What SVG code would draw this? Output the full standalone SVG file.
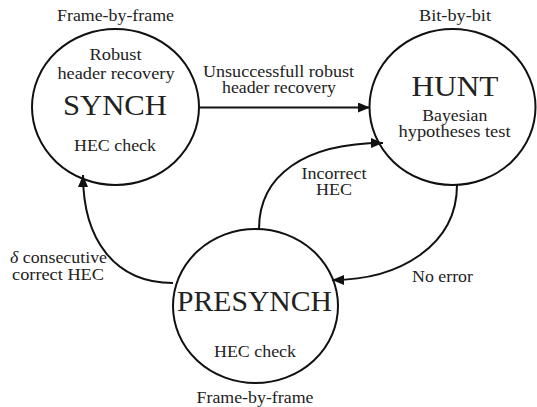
<svg xmlns="http://www.w3.org/2000/svg" width="537" height="407" viewBox="0 0 537 407">
<style>
  .node { fill: none; stroke: #111; stroke-width: 2; }
  .edge { fill: none; stroke: #111; stroke-width: 2; }
  text { fill: #222; text-anchor: middle; font-family: "Liberation Serif", "DejaVu Serif", serif; }
  .s { font-size: 16px; }
  .b { font-size: 30px; }
</style>
<defs>
  <marker id="arr" viewBox="0 0 12 10" refX="12" refY="5" markerWidth="12" markerHeight="10" markerUnits="userSpaceOnUse" orient="auto">
    <path d="M0,0 L12,5 L0,10 Z" fill="#111"/>
  </marker>
</defs>
<g id="edges">
  <path class="edge" d="M199,107.5 L370,107.5" marker-end="url(#arr)"/>
  <path class="edge" d="M259,229 C259,175 305,143 383,143" marker-end="url(#arr)"/>
  <path class="edge" d="M457,185 C457,245 400,280 332,280" marker-end="url(#arr)"/>
  <path class="edge" d="M173,283 C115,283 83,240 83,175" marker-end="url(#arr)"/>
  <text class="s" x="278.5" y="77" textLength="151" lengthAdjust="spacingAndGlyphs">Unsuccessfull robust</text>
  <text class="s" x="279" y="93" textLength="114" lengthAdjust="spacingAndGlyphs">header recovery</text>
  <text class="s" x="334" y="179" textLength="65" lengthAdjust="spacingAndGlyphs">Incorrect</text>
  <text class="s" x="334" y="195" textLength="36" lengthAdjust="spacingAndGlyphs">HEC</text>
  <text class="s" x="442.5" y="282" textLength="61" lengthAdjust="spacingAndGlyphs">No error</text>
  <text class="s" x="58.5" y="263" textLength="97" lengthAdjust="spacingAndGlyphs"><tspan font-style="italic">δ</tspan> consecutive</text>
  <text class="s" x="58" y="280" textLength="92" lengthAdjust="spacingAndGlyphs">correct HEC</text>
</g>
<g id="synch">
  <ellipse class="node" cx="115.5" cy="107" rx="83.5" ry="78"/>
  <text class="s" x="115.5" y="20.5" textLength="117" lengthAdjust="spacingAndGlyphs">Frame-by-frame</text>
  <text class="s" x="115.5" y="60" textLength="52" lengthAdjust="spacingAndGlyphs">Robust</text>
  <text class="s" x="116" y="78.5" textLength="117" lengthAdjust="spacingAndGlyphs">header recovery</text>
  <text class="b" x="115" y="115" textLength="104" lengthAdjust="spacingAndGlyphs">SYNCH</text>
  <text class="s" x="115" y="150.5" textLength="82" lengthAdjust="spacingAndGlyphs">HEC check</text>
</g>
<g id="hunt">
  <ellipse class="node" cx="452.5" cy="107" rx="83" ry="78"/>
  <text class="s" x="455" y="20.5" textLength="72" lengthAdjust="spacingAndGlyphs">Bit-by-bit</text>
  <text class="b" x="455" y="95.5" textLength="87" lengthAdjust="spacingAndGlyphs">HUNT</text>
  <text class="s" x="454.8" y="120.5" textLength="65" lengthAdjust="spacingAndGlyphs">Bayesian</text>
  <text class="s" x="454.5" y="137" textLength="112" lengthAdjust="spacingAndGlyphs">hypotheses test</text>
</g>
<g id="presynch">
  <ellipse class="node" cx="255.5" cy="306" rx="82.5" ry="77"/>
  <text class="b" x="254.5" y="311" textLength="155" lengthAdjust="spacingAndGlyphs">PRESYNCH</text>
  <text class="s" x="255" y="357" textLength="82" lengthAdjust="spacingAndGlyphs">HEC check</text>
  <text class="s" x="255" y="403" textLength="117" lengthAdjust="spacingAndGlyphs">Frame-by-frame</text>
</g>
</svg>
